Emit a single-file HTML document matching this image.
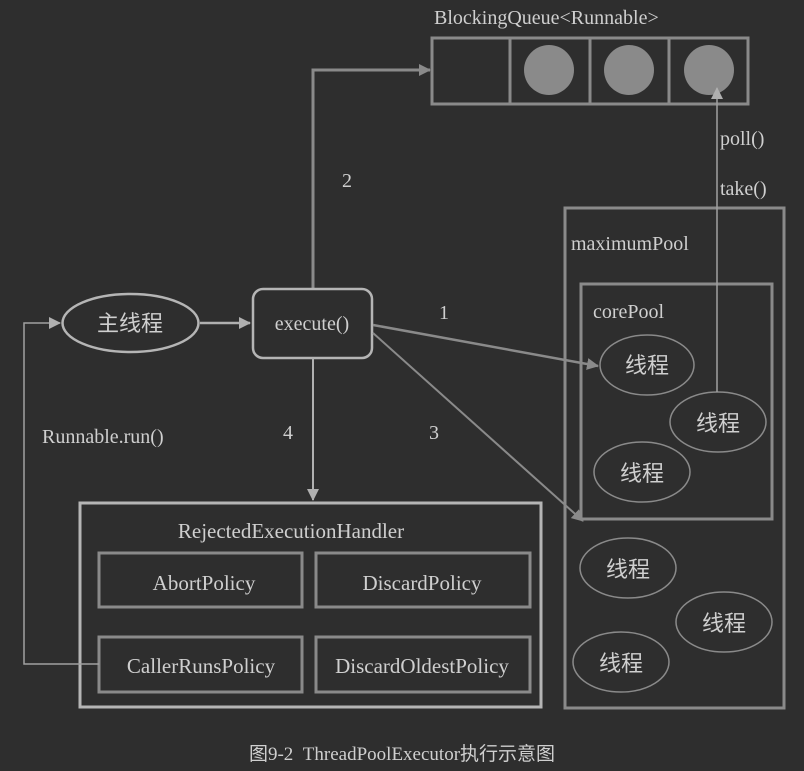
<!DOCTYPE html>
<html><head><meta charset="utf-8"><style>
html,body{margin:0;padding:0;background:#2e2e2e;}
svg{display:block}
text{font-family:"Liberation Serif","Noto Serif CJK SC",serif;fill:#cfcfcf;}
.cj{font-family:"Liberation Serif","Noto Sans CJK SC",sans-serif;}
</style></head><body>
<svg width="804" height="771" viewBox="0 0 804 771" xmlns="http://www.w3.org/2000/svg">
<defs>
<marker id="a" markerWidth="12" markerHeight="12" refX="11" refY="6" orient="auto" markerUnits="userSpaceOnUse"><path d="M0,0 L12,6 L0,12z" fill="#8a8a8a"/></marker>
<marker id="b" markerWidth="12" markerHeight="12" refX="11" refY="6" orient="auto" markerUnits="userSpaceOnUse"><path d="M0,0 L12,6 L0,12z" fill="#b0b0b0"/></marker>
</defs>
<rect width="804" height="771" fill="#2e2e2e"/>
<text x="434" y="24" font-size="20">BlockingQueue&lt;Runnable&gt;</text>
<rect x="432" y="38" width="316" height="66" fill="none" stroke="#8a8a8a" stroke-width="3"/>
<line x1="510" y1="38" x2="510" y2="104" stroke="#8a8a8a" stroke-width="3"/>
<line x1="590" y1="38" x2="590" y2="104" stroke="#8a8a8a" stroke-width="3"/>
<line x1="669" y1="38" x2="669" y2="104" stroke="#8a8a8a" stroke-width="3"/>
<circle cx="549" cy="70" r="25" fill="#8a8a8a"/>
<circle cx="629" cy="70" r="25" fill="#8a8a8a"/>
<circle cx="709" cy="70" r="25" fill="#8a8a8a"/>
<polyline points="313,288 313,70 430,70" fill="none" stroke="#8a8a8a" stroke-width="3" marker-end="url(#a)"/>
<text x="342" y="187" font-size="20">2</text>
<rect x="565" y="208" width="219" height="500" fill="none" stroke="#8a8a8a" stroke-width="3"/>
<text x="571" y="250" font-size="20">maximumPool</text>
<rect x="581" y="284" width="191" height="235" fill="none" stroke="#8a8a8a" stroke-width="3"/>
<text x="593" y="318" font-size="20">corePool</text>
<g fill="none" stroke="#8a8a8a" stroke-width="1.5">
<ellipse cx="647" cy="365" rx="47" ry="30"/>
<ellipse cx="718" cy="422" rx="48" ry="30"/>
<ellipse cx="642" cy="472" rx="48" ry="30"/>
<ellipse cx="628" cy="568" rx="48" ry="30"/>
<ellipse cx="724" cy="622" rx="48" ry="30"/>
<ellipse cx="621" cy="662" rx="48" ry="30"/>
</g>
<g font-size="22" text-anchor="middle">
<text class="cj" x="647" y="373">线程</text>
<text class="cj" x="718" y="431">线程</text>
<text class="cj" x="642" y="481">线程</text>
<text class="cj" x="628" y="577">线程</text>
<text class="cj" x="724" y="631">线程</text>
<text class="cj" x="621" y="671">线程</text>
</g>
<line x1="717" y1="392" x2="717" y2="88" stroke="#a0a0a0" stroke-width="1.5" marker-end="url(#b)"/>
<text x="720" y="145" font-size="20">poll()</text>
<text x="720" y="195" font-size="20">take()</text>
<rect x="253" y="289" width="119" height="69" rx="10" fill="none" stroke="#b5b5b5" stroke-width="2.5"/>
<text x="312" y="330" font-size="20" text-anchor="middle">execute()</text>
<ellipse cx="130.5" cy="323" rx="68" ry="29" fill="none" stroke="#b5b5b5" stroke-width="2.5"/>
<text class="cj" x="130" y="331" font-size="22" text-anchor="middle">主线程</text>
<line x1="200" y1="323" x2="250" y2="323" stroke="#b0b0b0" stroke-width="2.5" marker-end="url(#b)"/>
<line x1="373" y1="325" x2="598" y2="366" stroke="#8a8a8a" stroke-width="2.5" marker-end="url(#a)"/>
<text x="439" y="319" font-size="20">1</text>
<line x1="373" y1="333" x2="583" y2="521" stroke="#8a8a8a" stroke-width="2" marker-end="url(#a)"/>
<text x="429" y="439" font-size="20">3</text>
<line x1="313" y1="358" x2="313" y2="500" stroke="#b0b0b0" stroke-width="2" marker-end="url(#b)"/>
<text x="283" y="439" font-size="20">4</text>
<rect x="80" y="503" width="461" height="204" fill="none" stroke="#b5b5b5" stroke-width="3"/>
<text x="291" y="538" font-size="21" text-anchor="middle">RejectedExecutionHandler</text>
<g fill="none" stroke="#8a8a8a" stroke-width="3">
<rect x="99" y="553" width="203" height="54"/>
<rect x="316" y="553" width="214" height="54"/>
<rect x="99" y="637" width="203" height="55"/>
<rect x="316" y="637" width="214" height="55"/>
</g>
<g font-size="21" text-anchor="middle">
<text x="204" y="590">AbortPolicy</text>
<text x="422" y="590">DiscardPolicy</text>
<text x="201" y="673">CallerRunsPolicy</text>
<text x="422" y="673">DiscardOldestPolicy</text>
</g>
<polyline points="99,664 24,664 24,323 60,323" fill="none" stroke="#a0a0a0" stroke-width="1.5" marker-end="url(#b)"/>
<text x="42" y="443" font-size="20">Runnable.run()</text>
<text class="cj" x="402" y="760" font-size="19" text-anchor="middle" xml:space="preserve">图9-2  ThreadPoolExecutor执行示意图</text>
</svg>
</body></html>
